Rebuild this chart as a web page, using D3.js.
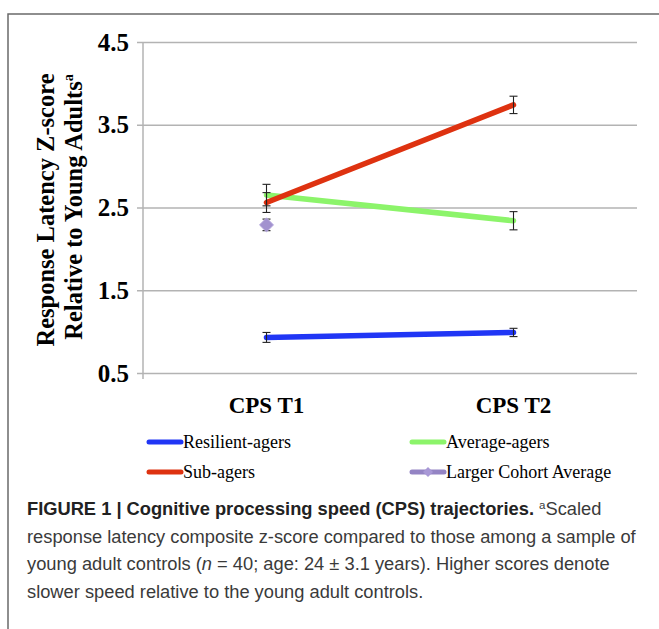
<!DOCTYPE html>
<html>
<head>
<meta charset="utf-8">
<script src="https://cdn.jsdelivr.net/npm/d3@7"></script>
<style>
  body { margin: 0; background: #fff; }
  svg { display: block; }
</style>
</head>
<body>
<div id="chart"></div>
<script>
// data
const categories = ["CPS T1", "CPS T2"];
const yTicks = [0.5, 1.5, 2.5, 3.5, 4.5];
const resilient = [0.93, 0.99];
const resilientErr = [0.06, 0.05];
const average = [2.65, 2.34];
const averageErr = [0.13, 0.11];
const subAgers = [2.56, 3.74];
const subAgersErr = [0.12, 0.105];
const cohort = [2.29];
const cohortErr = [0.07];

const series = [
  { name: "Resilient-agers", values: resilient, err: resilientErr, color: "#2036f5" },
  { name: "Average-agers", values: average, err: averageErr, color: "#8cf46a" },
  { name: "Sub-agers", values: subAgers, err: subAgersErr, color: "#de3210" }
];

const width = 659, height = 629;
const svg = d3.select("#chart").append("svg")
  .attr("width", width)
  .attr("height", height);

// figure frame
svg.append("path")
  .attr("d", `M8,${height} L8,14 L${width},14`)
  .attr("fill", "none")
  .attr("stroke", "#6a6a6a")
  .attr("stroke-width", 1.5);

const x = d3.scaleBand().domain(categories).range([143, 637]);
const cx = d => x(d) + x.bandwidth() / 2;
const y = d3.scaleLinear().domain([0.5, 4.5]).range([373, 42]);

// gridlines + ticks
const yAxis = d3.axisLeft(y).tickValues(yTicks).tickSize(-500).tickPadding(12)
  .tickFormat(d3.format(".1f"));
const gy = svg.append("g").attr("transform", "translate(137,0)").call(yAxis);
gy.select(".domain").remove();
gy.selectAll(".tick line").attr("stroke", "#b3b3b3").attr("stroke-width", 1.5);
gy.selectAll(".tick text")
  .attr("x", -8)
  .style("font-family", "'Liberation Serif', 'Times New Roman', serif")
  .style("font-weight", "bold")
  .style("font-size", "25px")
  .attr("fill", "#000");

// vertical axis line
svg.append("line")
  .attr("x1", 143).attr("x2", 143)
  .attr("y1", y(4.5)).attr("y2", y(0.5) + 6)
  .attr("stroke", "#b3b3b3").attr("stroke-width", 1.5);

// category labels
svg.selectAll(".cat").data(categories).enter().append("text")
  .attr("class", "cat")
  .attr("x", d => cx(d))
  .attr("y", 413)
  .attr("text-anchor", "middle")
  .style("font-family", "'Liberation Serif', 'Times New Roman', serif")
  .style("font-weight", "bold")
  .style("font-size", "23px")
  .text(d => d);

// y-axis title
const title = svg.append("text")
  .attr("transform", "rotate(-90)")
  .attr("text-anchor", "middle")
  .style("font-family", "'Liberation Serif', 'Times New Roman', serif")
  .style("font-weight", "bold")
  .style("font-size", "24.5px");
title.append("tspan").attr("x", -210).attr("y", 54).text("Response Latency Z-score");
const l2 = title.append("tspan").attr("x", -207).attr("y", 82);
l2.append("tspan").text("Relative to Young Adults");
l2.append("tspan").attr("dy", -9).style("font-size", "14px").text("a");

// lines
const line = d3.line().x((d, i) => cx(categories[i])).y(d => y(d));
series.forEach(s => {
  svg.append("path")
    .datum(s.values)
    .attr("d", line)
    .attr("fill", "none")
    .attr("stroke", s.color)
    .attr("stroke-width", 5.5)
    .attr("stroke-linecap", "round");
});

// error bars
function errBars(values, errs) {
  values.forEach((v, i) => {
    const px = cx(categories[i]);
    const g = svg.append("g").attr("stroke", "#222").attr("stroke-width", 1.1);
    g.append("line").attr("x1", px).attr("x2", px).attr("y1", y(v - errs[i])).attr("y2", y(v + errs[i]));
    [v - errs[i], v + errs[i]].forEach(e => {
      g.append("line").attr("x1", px - 4).attr("x2", px + 4).attr("y1", y(e)).attr("y2", y(e));
    });
  });
}
series.forEach(s => errBars(s.values, s.err));
errBars(cohort, cohortErr);

// larger cohort diamond (square turned 45 degrees)
svg.selectAll(".cohort").data(cohort).enter().append("path")
  .attr("class", "cohort")
  .attr("transform", (d, i) => `translate(${cx(categories[i])},${y(d)}) rotate(45)`)
  .attr("d", d3.symbol(d3.symbolSquare, 100))
  .attr("fill", "#a292cf")
  .attr("stroke", "#b9acdf")
  .attr("stroke-width", 0.8);

// legend
const legendItems = [
  { name: "Resilient-agers", color: "#2036f5", x: 149, y: 442 },
  { name: "Average-agers", color: "#8cf46a", x: 412, y: 442 },
  { name: "Sub-agers", color: "#de3210", x: 149, y: 472 },
  { name: "Larger Cohort Average", color: "#9484c4", x: 412, y: 472, marker: true }
];
const lg = svg.selectAll(".legend").data(legendItems).enter().append("g")
  .attr("class", "legend")
  .attr("transform", d => `translate(${d.x},${d.y})`);
lg.append("line")
  .attr("x1", 0).attr("x2", 32)
  .attr("stroke", d => d.color)
  .attr("stroke-width", 5)
  .attr("stroke-linecap", "round");
lg.filter(d => d.marker).append("path")
  .attr("transform", "translate(16,0) rotate(45)")
  .attr("d", d3.symbol(d3.symbolSquare, 50))
  .attr("fill", "#a898d6");
lg.append("text")
  .attr("x", 34)
  .attr("y", 6)
  .style("font-family", "'Liberation Serif', 'Times New Roman', serif")
  .style("font-size", "18px")
  .text(d => d.name);

// caption
const cap = svg.append("g")
  .style("font-family", "'Liberation Sans', Arial, sans-serif")
  .style("font-size", "18.3px")
  .attr("fill", "#3a3a3a");
const l1 = cap.append("text").attr("x", 27).attr("y", 515);
l1.append("tspan").style("font-weight", "bold").attr("fill", "#222")
  .text("FIGURE 1 | Cognitive processing speed (CPS) trajectories. ");
l1.append("tspan").attr("dy", -6).style("font-size", "11.5px").text("a");
l1.append("tspan").attr("dy", 6).text("Scaled");
cap.append("text").attr("x", 27).attr("y", 543)
  .text("response latency composite z-score compared to those among a sample of");
const l3 = cap.append("text").attr("x", 27).attr("y", 570);
l3.append("tspan").text("young adult controls (");
l3.append("tspan").style("font-style", "italic").text("n");
l3.append("tspan").text(" = 40; age: 24 \u00b1 3.1 years). Higher scores denote");
cap.append("text").attr("x", 27).attr("y", 598)
  .text("slower speed relative to the young adult controls.");
</script>
</body>
</html>
